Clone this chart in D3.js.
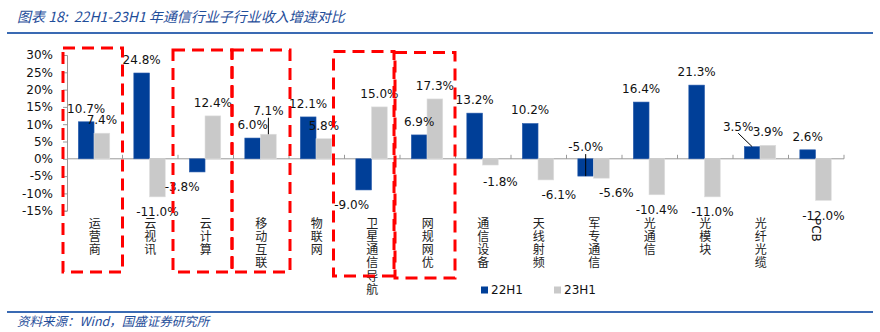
<!DOCTYPE html>
<html>
<head>
<meta charset="utf-8">
<script src="https://cdn.jsdelivr.net/npm/d3@7"></script>
<style>
  body { margin: 0; background: #fff; }
  svg { display: block; }
  .num { font-family: "DejaVu Sans", Verdana, sans-serif; font-size: 12px; fill: #111; }
  .cat { font-family: "Noto Sans CJK SC", sans-serif; font-size: 12px; fill: #222; }
  .note { font-family: "Noto Sans CJK SC", "DejaVu Sans", sans-serif; font-style: italic; fill: #1f4e9a; }
</style>
</head>
<body>
<div id="chart"></div>
<script>
// sub-sector revenue growth, 22H1 vs 23H1 (%)
const categories = ["运营商", "云视讯", "云计算", "移动互联", "物联网", "卫星通信导航", "网规网优",
  "通信设备", "天线射频", "军专通信", "光通信", "光模块", "光纤光缆", "PCB"];
const series = ["22H1", "23H1"];
const growth22H1 = [10.7, 24.8, -3.8, 6.0, 12.1, -9.0, 6.9, 13.2, 10.2, -5.0, 16.4, 21.3, 3.5, 2.6];
const growth23H1 = [7.4, -11.0, 12.4, 7.1, 5.8, 15.0, 17.3, -1.8, -6.1, -5.6, -10.4, -11.0, 3.9, -12.0];
const yTicks = [-15, -10, -5, 0, 5, 10, 15, 20, 25, 30];
// sub-sectors framed with red dashed boxes
const highlighted = ["运营商", "云计算", "移动互联", "卫星通信导航", "网规网优"];

const width = 880, height = 332;
const colors = { "22H1": "#003f98", "23H1": "#c9c9c9" };

const svg = d3.select("#chart").append("svg")
  .attr("width", width)
  .attr("height", height);

// title and rules
svg.append("text")
  .attr("class", "note")
  .attr("x", 17).attr("y", 22)
  .style("font-size", "14px")
  .style("white-space", "pre")
  .text("图表 18:  22H1-23H1 年通信行业子行业收入增速对比");

svg.append("line")
  .attr("x1", 7).attr("x2", 873).attr("y1", 33).attr("y2", 33)
  .attr("stroke", "#3a6ab3").attr("stroke-width", 2);

svg.append("line")
  .attr("x1", 7).attr("x2", 873).attr("y1", 312).attr("y2", 312)
  .attr("stroke", "#3a6ab3").attr("stroke-width", 2);

svg.append("text")
  .attr("class", "note")
  .attr("x", 17).attr("y", 326)
  .style("font-size", "12.5px")
  .text("资料来源：Wind，国盛证券研究所");

// scales
let x = d3.scaleBand()
  .domain(categories)
  .range([67, 844]);

let step = x.bandwidth();

let xs = d3.scaleBand()
  .domain(series)
  .range([step * 0.204, step * 0.77]);

let y = d3.scaleLinear()
  .domain([-15, 30])
  .range([210.7, 55]);

// y axis
let yAxis = d3.axisLeft(y)
  .tickValues(yTicks)
  .tickSize(4)
  .tickPadding(10)
  .tickFormat(d => d + "%");

let gy = svg.append("g")
  .attr("transform", `translate(${x.range()[0]},0)`)
  .call(yAxis);
gy.select(".domain").attr("stroke", "#999");
gy.selectAll(".tick line").attr("stroke", "#999");
gy.selectAll(".tick text")
  .attr("class", "num")
  .attr("font-family", null).attr("font-size", null);

// zero line with category ticks pointing up
svg.append("line")
  .attr("x1", x.range()[0]).attr("x2", x.range()[1])
  .attr("y1", y(0)).attr("y2", y(0))
  .attr("stroke", "#999");

svg.selectAll("line.catTick")
  .data(categories.slice(1).concat([null]))
  .enter()
  .append("line")
  .attr("class", "catTick")
  .attr("x1", d => d ? x(d) : x.range()[1])
  .attr("x2", d => d ? x(d) : x.range()[1])
  .attr("y1", y(0)).attr("y2", y(0) - 4)
  .attr("stroke", "#999");

// bar data
let bars = [];
categories.forEach((c, i) => {
  bars.push({ cat: c, s: "22H1", value: growth22H1[i] });
  bars.push({ cat: c, s: "23H1", value: growth23H1[i] });
});

svg.selectAll("rect.bar")
  .data(bars)
  .enter()
  .append("rect")
  .attr("class", "bar")
  .attr("x", d => x(d.cat) + xs(d.s))
  .attr("width", xs.bandwidth())
  .attr("y", d => y(Math.max(0, d.value)))
  .attr("height", d => Math.abs(y(d.value) - y(0)))
  .attr("fill", d => colors[d.s])
  .attr("stroke", d => d.s == "22H1" ? "#2d5fae" : "#dedede")
  .attr("stroke-width", 0.6);

// hand-placed label offsets [dx, dy] and leader lines
const labelNudge = {
  "云计算|22H1": [-15, 0],
  "移动互联|23H1": [0, -10, true],
  "卫星通信导航|22H1": [-12, 0],
  "通信设备|23H1": [10, 2],
  "天线射频|23H1": [13, 0],
  "军专通信|22H1": [0, -44, true],
  "军专通信|23H1": [15, 0],
  "光纤光缆|22H1": [-14, -7, true]
};

bars.forEach(d => {
  let nudge = labelNudge[d.cat + "|" + d.s] || [0, 0];
  d.cx = x(d.cat) + xs(d.s) + xs.bandwidth() / 2;
  d.lx = d.cx + nudge[0];
  d.ly = (d.value >= 0 ? y(d.value) - 13.5 : y(d.value) + 15) + nudge[1];
  d.leader = !!nudge[2];
});

svg.selectAll("line.leader")
  .data(bars.filter(d => d.leader))
  .enter()
  .append("line")
  .attr("class", "leader")
  .attr("x1", d => d.lx)
  .attr("y1", d => d.ly + 7)
  .attr("x2", d => d.cx)
  .attr("y2", d => y(d.value))
  .attr("stroke", "#000")
  .attr("stroke-width", 1);

svg.selectAll("text.valueLabel")
  .data(bars)
  .enter()
  .append("text")
  .attr("class", "valueLabel num")
  .attr("x", d => d.lx)
  .attr("y", d => d.ly)
  .attr("dy", "0.36em")
  .style("text-anchor", "middle")
  .text(d => d.value.toFixed(1) + "%");

// category names, stacked vertically one character per line
categories.forEach(c => {
  let cx = x(c) + step / 2;
  if (c == "PCB") {
    svg.append("text")
      .attr("class", "num")
      .attr("transform", `translate(${cx - 4},218) rotate(90)`)
      .text(c);
    return;
  }
  svg.selectAll(null)
    .data(c.split(""))
    .enter()
    .append("text")
    .attr("class", "cat")
    .attr("x", cx)
    .attr("y", (d, i) => 227.5 + i * 13.3)
    .style("text-anchor", "middle")
    .text(d => d);
});

// red dashed boxes around highlighted sub-sectors
const boxPad = { "运营商": [4, 0, 48, 272], "云计算": [5, 1.5, 50, 272], "移动互联": [1.5, -1, 50, 272],
  "卫星通信导航": [11, 6, 51.5, 276], "网规网优": [5, 0.5, 52.5, 278] };

svg.selectAll("rect.box")
  .data(highlighted)
  .enter()
  .append("rect")
  .attr("class", "box")
  .attr("x", d => x(d) - boxPad[d][0])
  .attr("width", d => step + boxPad[d][0] - boxPad[d][1])
  .attr("y", d => boxPad[d][2])
  .attr("height", d => boxPad[d][3] - boxPad[d][2])
  .attr("fill", "none")
  .attr("stroke", "#ff0000")
  .attr("stroke-width", 3)
  .attr("stroke-dasharray", "12 7");

// legend
let legend = svg.append("g").attr("transform", "translate(481,290)");
series.forEach((s, i) => {
  let g = legend.append("g").attr("transform", `translate(${i * 73},0)`);
  g.append("rect")
    .attr("x", 0).attr("y", -3.5)
    .attr("width", 7).attr("height", 7)
    .attr("fill", colors[s]);
  g.append("text")
    .attr("class", "num")
    .attr("x", 10).attr("y", 0)
    .attr("dy", "0.36em")
    .text(s);
});
</script>
</body>
</html>
